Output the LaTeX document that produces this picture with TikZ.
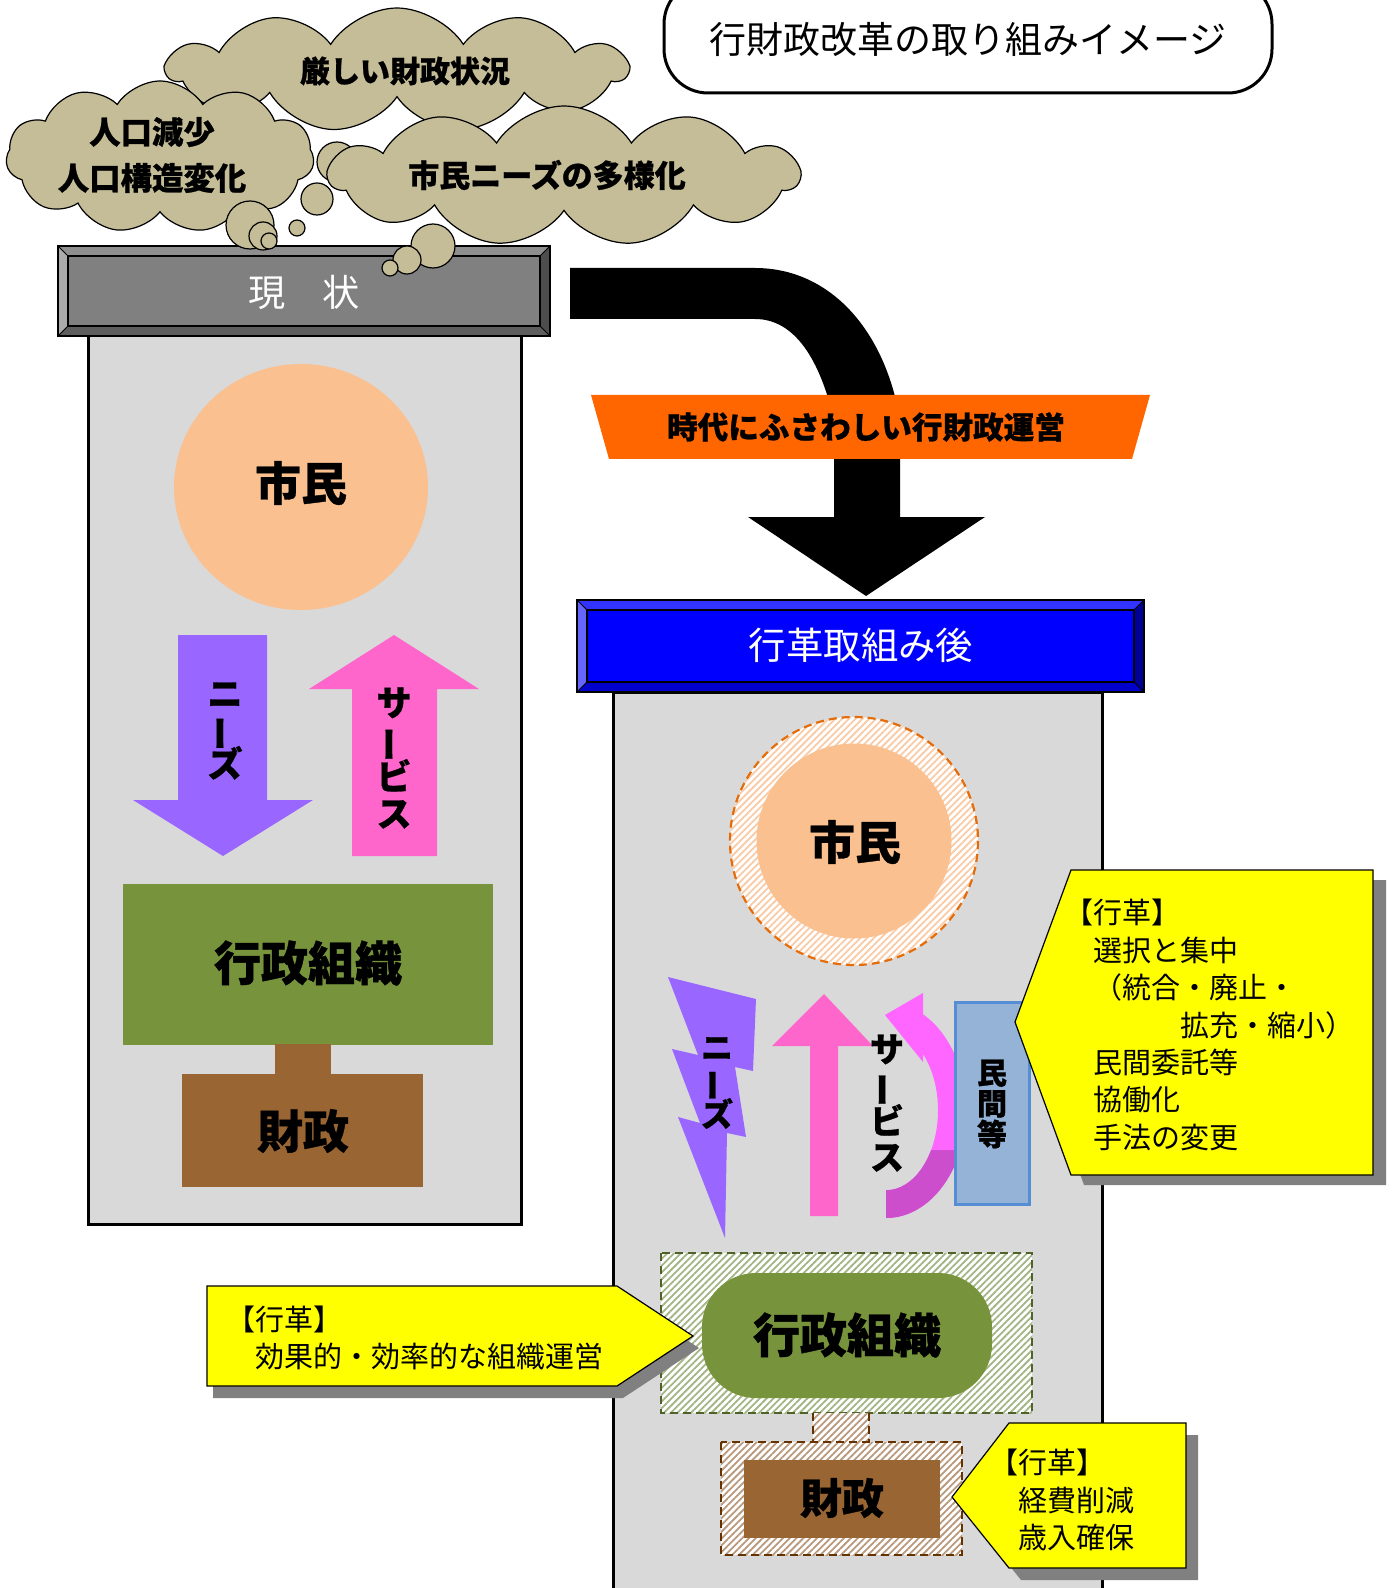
\documentclass[tikz,border=0pt]{standalone}
\usepackage{fontspec}
\usepackage{graphicx}
\setmainfont{Noto Sans CJK JP}[BoldFeatures={FakeBold=0.8}]
\usetikzlibrary{shapes.symbols,patterns.meta}
\definecolor{cloudtan}{HTML}{C4BD97}
\definecolor{panelgray}{HTML}{D9D9D9}
\definecolor{citizen}{HTML}{FAC090}
\definecolor{needs}{HTML}{9966FF}
\definecolor{service}{HTML}{FF66CC}
\definecolor{servicetwo}{HTML}{FF66FF}
\definecolor{servicedark}{HTML}{CC4ECC}
\definecolor{orggreen}{HTML}{77933C}
\definecolor{finbrown}{HTML}{996633}
\definecolor{bannerorange}{HTML}{FF6600}
\definecolor{minkan}{HTML}{95B3D7}
\definecolor{minkanedge}{HTML}{558ED5}
\definecolor{calloutyellow}{HTML}{FFFF00}
\definecolor{shadowgray}{HTML}{808080}
\definecolor{gface}{HTML}{808080}
\definecolor{gtop}{HTML}{8F8F8F}
\definecolor{gleft}{HTML}{ABABAB}
\definecolor{gbot}{HTML}{5E5E5E}
\definecolor{gright}{HTML}{4D4D4D}
\definecolor{bface}{HTML}{0000FF}
\definecolor{btop}{HTML}{3333FF}
\definecolor{bleft}{HTML}{6666FF}
\definecolor{bbot}{HTML}{0000CC}
\definecolor{bright}{HTML}{000099}
\definecolor{ringorange}{HTML}{E46C0A}
\definecolor{hatchorange}{HTML}{F9CBA6}
\definecolor{hatchgreen}{HTML}{A3B585}
\definecolor{edgegreen}{HTML}{4F6228}
\definecolor{hatchbrown}{HTML}{B8997D}
\definecolor{edgebrown}{HTML}{663300}

\newcommand{\vbar}{\smash{\rotatebox[origin=c]{90}{ー}}}
\newcommand{\bevelbar}[5]{%
  \fill[#5face] (#1,#2) rectangle (#3,#4);
  \fill[#5top] (#1,#2) -- (#3,#2) -- ({#3-10},{#2+10}) -- ({#1+10},{#2+10}) -- cycle;
  \fill[#5left] (#1,#2) -- ({#1+10},{#2+10}) -- ({#1+10},{#4-10}) -- (#1,#4) -- cycle;
  \fill[#5bot] (#1,#4) -- ({#1+10},{#4-10}) -- ({#3-10},{#4-10}) -- (#3,#4) -- cycle;
  \fill[#5right] (#3,#2) -- (#3,#4) -- ({#3-10},{#4-10}) -- ({#3-10},{#2+10}) -- cycle;
  \draw[line width=0.6pt] ({#1+10},{#2+10}) rectangle ({#3-10},{#4-10});
  \draw[line width=0.5pt] (#1,#2) -- ({#1+10},{#2+10}) (#3,#2) -- ({#3-10},{#2+10})
     (#1,#4) -- ({#1+10},{#4-10}) (#3,#4) -- ({#3-10},{#4-10});
  \draw[line width=1pt] (#1,#2) rectangle (#3,#4);
}

\begin{document}
\begin{tikzpicture}[x=0.5pt,y=-0.5pt,
  every node/.style={inner sep=0pt},
  jb/.style={font=\bfseries\fontsize{#1}{#1}\selectfont},
  cloudbox/.style={cloud, draw=black, line width=0.6pt, fill=cloudtan, cloud puffs=11, cloud puff arc=115, cloud ignores aspect},
  bubble/.style={draw=black, line width=0.6pt, fill=cloudtan},
  panel/.style={fill=panelgray, draw=black, line width=1.5pt},
  callout/.style={fill=calloutyellow, draw=black, line width=0.6pt},
  calltext/.style={align=left, anchor=west, font=\fontsize{14.5}{18.7}\selectfont},
  vtext/.style 2 args={align=center, font=\bfseries\fontsize{#1}{#2}\selectfont},
  hatch/.style={pattern={Lines[angle=45,distance=2.4pt,line width=0.9pt]}, pattern color=#1},
  dashedge/.style={line width=1pt, dash pattern=on 4pt off 2.5pt},
]
\useasboundingbox (0,0) rectangle (1394,1588);
\fill[white] (0,0) rectangle (1394,1588);
\clip (0,0) rectangle (1394,1588);

% ---------- title ----------
\draw[line width=1.5pt, rounded corners=22pt, fill=white] (664,-20) rectangle (1272,93);
\node[font=\fontsize{18.5}{18.5}\selectfont] (title) at (968,40) {行財政改革の取り組みイメージ};

% ---------- left panel ----------
\draw[panel] (88,336) rectangle (521,1224);
\bevelbar{58}{246}{550}{336}{g}
\node[text=white, font=\fontsize{18.6}{18.6}\selectfont] (genjo) at (304,292) {現　状};

\fill[citizen] (301,487) ellipse [x radius=127, y radius=123];
\node[jb=23] (shiminL) at (301,483) {市民};

\fill[needs] (178,635) -- (267,635) -- (267,800) -- (313,800) -- (223,856) -- (133,800) -- (178,800) -- cycle;
\node[vtext={17.5}{17.5}] (needsL) at (225,731) {ニ\\\vbar\\ズ};

\fill[service] (352,856) -- (437,856) -- (437,689) -- (479,689) -- (394,635) -- (309,689) -- (352,689) -- cycle;
\node[vtext={17.5}{18.5}] (serviceL) at (394,758) {サ\\\vbar\\ビ\\ス};

\fill[orggreen] (123,884) rectangle (493,1045);
\node[jb=23.5] (gyoseiL) at (308,963) {行政組織};
\fill[finbrown] (275,1044) rectangle (331,1075);
\fill[finbrown] (182,1074) rectangle (423,1187);
\node[jb=23] (zaiseiL) at (303,1131) {財政};

% ---------- clouds ----------
\node[cloudbox, minimum width=230pt, minimum height=62pt] (cloudA) at (397,70) {};
\node[cloudbox, minimum width=154pt, minimum height=76pt] (cloudB) at (160,157) {};
\node[bubble, circle, minimum size=24pt] (bb1) at (250,225) {};
\node[bubble, circle, minimum size=14pt] (bb2) at (263,236) {};
\node[bubble, circle, minimum size=8pt] (bb3) at (269,241) {};
\node[bubble, circle, minimum size=8pt] (bb4) at (297,228) {};
\node[bubble, circle, minimum size=16pt] (bb5) at (317,199) {};
\node[bubble, circle, minimum size=20pt] (bb6) at (337,162) {};
\node[cloudbox, minimum width=235pt, minimum height=70pt] (cloudC) at (564,176) {};
\node[bubble, circle, minimum size=22pt] (bc1) at (433,246) {};
\node[bubble, circle, minimum size=14pt] (bc2) at (407,260) {};
\node[bubble, circle, minimum size=8pt] (bc3) at (390,268) {};

\node[jb=15] (txtA) at (405,71) {厳しい財政状況};
\node[align=center, font=\bfseries\fontsize{15.7}{23}\selectfont] (txtB) at (152,155) {人口減少\\人口構造変化};
\node[jb=15.5] (txtC) at (547,175) {市民ニーズの多様化};

% ---------- big black arrow ----------
\fill[black] (570,268) -- (755,268) .. controls (830,268) and (885,330) .. (900,420)
  -- (900,517) -- (985,517) -- (866,596) -- (748,517) -- (834,517) -- (834,420)
  .. controls (820,360) and (795,319) .. (755,319) -- (570,319) -- cycle;
\fill[bannerorange] (591,395) -- (1150,395) -- (1132,459) -- (609,459) -- cycle;
\node[jb=15.3] (banner) at (866,427) {時代にふさわしい行財政運営};

% ---------- right panel ----------
\draw[panel] (613,692) rectangle (1102,1620);
\bevelbar{577}{600}{1144}{692}{b}
\node[text=white, font=\fontsize{18.7}{18.7}\selectfont] (after) at (861,645) {行革取組み後};

\fill[white] (854,841) circle [radius=124];
\fill[hatch=hatchorange] (854,841) circle [radius=124];
\fill[citizen] (854,841) circle [radius=97.5];
\draw[ringorange, line width=1.1pt, dash pattern=on 4pt off 2.5pt] (854,841) circle [radius=124];
\node[jb=23] (shiminR) at (855,842) {市民};

\fill[needs] (668,977) -- (756,999) -- (753,1071) -- (735,1067) -- (746,1137) -- (727,1133)
  -- (725,1238) -- (678,1117) -- (700,1123) -- (672,1049) -- (698,1055) -- cycle;
\node[vtext={16}{16.7}] (needsR) at (717,1083) {ニ\\\vbar\\ズ};

\fill[service] (810,1216) -- (838,1216) -- (838,1046) -- (873,1046) -- (824,994) -- (772,1046) -- (810,1046) -- cycle;

\fill[servicetwo] (886,1218) arc [start angle=90, end angle=-62.45, x radius=80, y radius=108]
  -- (923,993) -- (885,1015) -- (923,1062) -- (923,1054)
  arc [start angle=-44.64, end angle=90, x radius=52, y radius=80] -- cycle;
\begin{scope}
\clip (880,1150) rectangle (1000,1230);
\fill[servicedark] (886,1218) arc [start angle=90, end angle=-62.45, x radius=80, y radius=108]
  -- (923,993) -- (885,1015) -- (923,1062) -- (923,1054)
  arc [start angle=-44.64, end angle=90, x radius=52, y radius=80] -- cycle;
\end{scope}
\node[vtext={17}{18}] (serviceR) at (887,1103) {サ\\\vbar\\ビ\\ス};

\draw[fill=minkan, draw=minkanedge, line width=1.5pt] (955,1002) rectangle (1029,1204);
\node[vtext={15}{15.4}] (minkanT) at (992,1104) {民\\間\\等};

% organisation (after)
\fill[white] (661,1253) rectangle (1032,1413);
\fill[hatch=hatchgreen] (661,1253) rectangle (1032,1413);
\draw[edgegreen, dashedge] (661,1253) rectangle (1032,1413);
\fill[orggreen, rounded corners=27pt] (702,1273) rectangle (992,1398);
\node[jb=23.5] (gyoseiR) at (847,1335) {行政組織};

% finance (after)
\fill[white] (813,1413) rectangle (869,1443);
\fill[hatch=hatchbrown] (813,1413) rectangle (869,1443);
\draw[edgebrown, dashedge] (813,1413) -- (813,1442) (869,1413) -- (869,1442);
\fill[white] (721,1442) rectangle (962,1555);
\fill[hatch=hatchbrown] (721,1442) rectangle (962,1555);
\draw[edgebrown, dashedge] (721,1442) rectangle (962,1555);
\fill[finbrown] (744,1460) rectangle (940,1538);
\node[jb=21] (zaiseiR) at (842,1498) {財政};

% ---------- callouts ----------
\fill[shadowgray] (1084,880) -- (1386,880) -- (1386,1185) -- (1084,1185) -- (1028,1032) -- cycle;
\filldraw[callout] (1071,870) -- (1373,870) -- (1373,1175) -- (1071,1175) -- (1015,1022) -- cycle;
\node[calltext] (kakuR) at (1064,1025) {【行革】\\　選択と集中\\　（統合・廃止・\\　　　　拡充・縮小）\\　民間委託等\\　協働化\\　手法の変更};

\fill[shadowgray] (213,1298) -- (623,1298) -- (699,1348) -- (623,1398) -- (213,1398) -- cycle;
\filldraw[callout] (207,1286) -- (617,1286) -- (693,1336) -- (617,1386) -- (207,1386) -- cycle;
\node[calltext] (kakuL) at (226,1338) {【行革】\\　効果的・効率的な組織運営};

\fill[shadowgray] (1021,1435) -- (1198,1435) -- (1198,1580) -- (1021,1580) -- (964,1509) -- cycle;
\filldraw[callout] (1009,1423) -- (1186,1423) -- (1186,1568) -- (1009,1568) -- (952,1497) -- cycle;
\node[calltext] (kakuLR) at (989,1500) {【行革】\\　経費削減\\　歳入確保};

\end{tikzpicture}
\end{document}
